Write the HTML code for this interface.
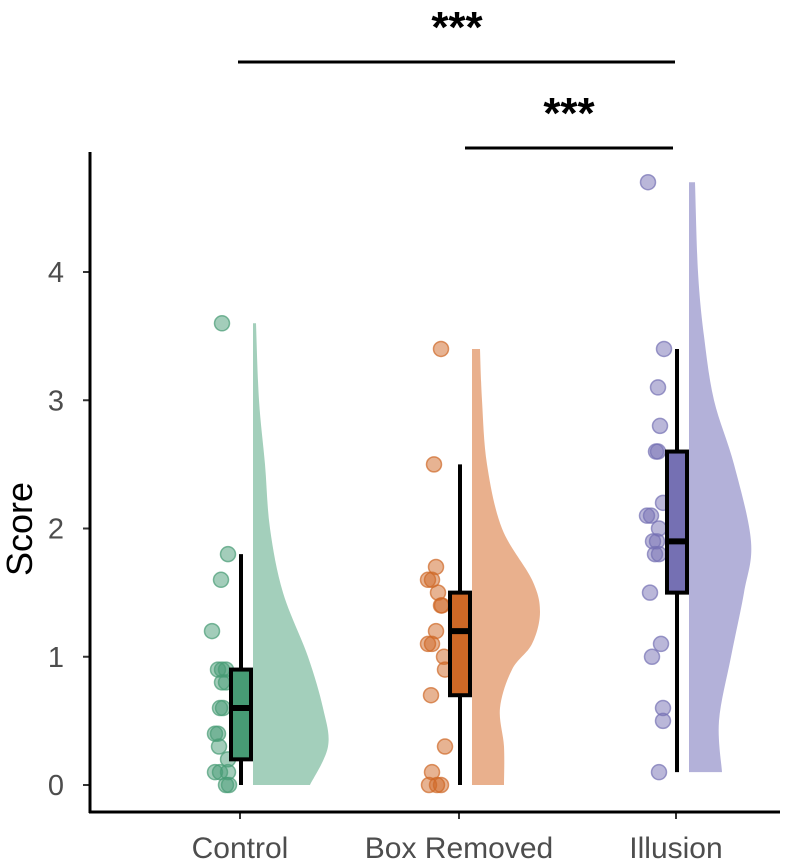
<!DOCTYPE html>
<html><head><meta charset="utf-8"><style>
body{margin:0;background:#fff}
svg text{font-family:"Liberation Sans",sans-serif}
</style></head><body>
<svg id="c" width="788" height="862"></svg>
<script>
const categories=["Control","Box Removed","Illusion"];
const controlScores=[3.6,1.8,1.6,1.2,0.9,0.9,0.9,0.8,0.8,0.6,0.6,0.4,0.4,0.3,0.2,0.1,0.1,0.1,0,0];
const controlJitter=[-18,-12,-19,-28,-18,-22,-14,-18,-14,-17,-20,-25,-22,-21,-12,-25,-20,-12,-14,-11];
const boxScores=[3.4,2.5,1.7,1.6,1.6,1.5,1.4,1.4,1.2,1.1,1.1,1.0,0.9,0.7,0.3,0.1,0,0,0];
const boxJitter=[-18,-25,-23,-31,-27,-21,-17,-18,-23,-31,-27,-15,-14,-28,-14,-27,-30,-22,-18];
const illusionScores=[4.7,3.4,3.1,2.8,2.6,2.6,2.2,2.1,2.1,2.0,1.9,1.9,1.8,1.8,1.5,1.1,1.0,0.6,0.5,0.1];
const illusionJitter=[-28,-12,-18,-16,-20,-18,-13,-29,-25,-17,-23,-19,-21,-17,-26,-15,-24,-13,-13,-17];
const boxStats=[[0,0.2,0.6,0.9,1.8],[0,0.7,1.2,1.5,2.5],[0.1,1.5,1.9,2.6,3.4]];
const densLevels=[[0,0.3,0.6,1.0,1.5,2.0,2.5,3.0,3.6],[0,0.3,0.6,0.9,1.1,1.35,1.6,2.0,2.5,3.0,3.4],[0.1,0.5,1.0,1.5,1.9,2.5,3.0,3.5,4.0,4.7]];
const densWidths=[[57,75,70,55,30,17,12,6,3],[32,32,28,40,60,68,60,30,15,10,8],[33,30,42,55,62,45,25,15,9,6]];
const yTicks=[0,1,2,3,4];
const allScores=[controlScores,boxScores,illusionScores];
const allJitter=[controlJitter,boxJitter,illusionJitter];
const boxFill=["#479b75","#cf6826","#7570b3"];
const violinFill=["#a3cfbb","#e9b08d","#b3b1d9"];
const ptFill=["rgba(71,155,117,0.5)","rgba(207,104,38,0.5)","rgba(117,112,179,0.5)"];
const ptStroke=["rgba(71,155,117,0.7)","rgba(207,104,38,0.7)","rgba(117,112,179,0.7)"];
const catX=[240,459,676];
const y=v=>785-128.25*v;
const x=i=>catX[i];
const NS="http://www.w3.org/2000/svg";
const svg=document.getElementById('c');
function mk(t,a,p){const e=document.createElementNS(NS,t);for(const k in a)e.setAttribute(k,a[k]);(p||svg).appendChild(e);return e;}
function smooth(pts){let d=`M${pts[0][0]},${pts[0][1]}`;for(let i=0;i<pts.length-1;i++){const p0=pts[Math.max(0,i-1)],p1=pts[i],p2=pts[i+1],p3=pts[Math.min(pts.length-1,i+2)];const c1=[p1[0]+(p2[0]-p0[0])/6,p1[1]+(p2[1]-p0[1])/6],c2=[p2[0]-(p3[0]-p1[0])/6,p2[1]-(p3[1]-p1[1])/6];d+=` C${c1[0]},${c1[1]} ${c2[0]},${c2[1]} ${p2[0]},${p2[1]}`;}return d;}
categories.forEach((c,i)=>{
  const g=mk('g',{});
  
  
  const x0=x(i)+13;
  const lv=densLevels[i],w=densWidths[i];
  const pts=lv.map((v,k)=>[x0+w[k],y(v)]);
  const d=smooth(pts)+` L${x0},${y(lv[lv.length-1])} L${x0},${y(lv[0])} Z`;
  const vio=mk('path',{d:d,fill:violinFill[i]},g);
  
  
  allScores[i].forEach((v,k)=>{
    const p=mk('circle',{cx:x(i)+allJitter[i][k],cy:y(v),r:7.5,fill:ptFill[i],stroke:ptStroke[i],'stroke-width':1.5},g);
    
    
  });
  const s=boxStats[i];
  const wh=mk('line',{x1:x(i)+1,x2:x(i)+1,y1:y(s[0]),y2:y(s[4]),stroke:'#000','stroke-width':4},g);
  
  
  const b=mk('rect',{x:x(i)-9,y:y(s[3]),width:20,height:y(s[1])-y(s[3]),fill:boxFill[i],stroke:'#000','stroke-width':4},g);
  
  
  const m=mk('line',{x1:x(i)-9,x2:x(i)+11,y1:y(s[2]),y2:y(s[2]),stroke:'#000','stroke-width':6},g);
  
  
  const t=mk('line',{x1:x(i),x2:x(i),y1:812,y2:819,stroke:'#333','stroke-width':2});
  
  
  const tl=mk('text',{x:x(i),y:858,'font-size':30,'text-anchor':'middle',fill:'#4d4d4d'});
  tl.textContent=c;
  
  
});
yTicks.forEach(v=>{
  const t=mk('line',{x1:83,x2:90,y1:y(v),y2:y(v),stroke:'#333','stroke-width':2});
  
  
  const l=mk('text',{x:64,y:y(v)+10,'font-size':29,'text-anchor':'end',fill:'#4d4d4d'});
  l.textContent=v;
  
  
});
const ya=mk('line',{x1:90,x2:90,y1:152,y2:813,stroke:'#000','stroke-width':3});


const xa=mk('line',{x1:89,x2:780,y1:812,y2:812,stroke:'#000','stroke-width':3});


const yt=mk('text',{x:0,y:0,'font-size':36,'text-anchor':'middle',fill:'#000',transform:'translate(32,529) rotate(-90)'});
yt.textContent='Score';


const s1=mk('line',{x1:238,x2:675,y1:62,y2:62,stroke:'#000','stroke-width':3});


const st1=mk('text',{x:457,y:42,'font-size':44,'font-weight':'bold','text-anchor':'middle',fill:'#000'});
st1.textContent='***';


const s2=mk('line',{x1:465,x2:673,y1:148,y2:148,stroke:'#000','stroke-width':3});


const st2=mk('text',{x:569,y:128,'font-size':44,'font-weight':'bold','text-anchor':'middle',fill:'#000'});
st2.textContent='***';


</script>
</body></html>
